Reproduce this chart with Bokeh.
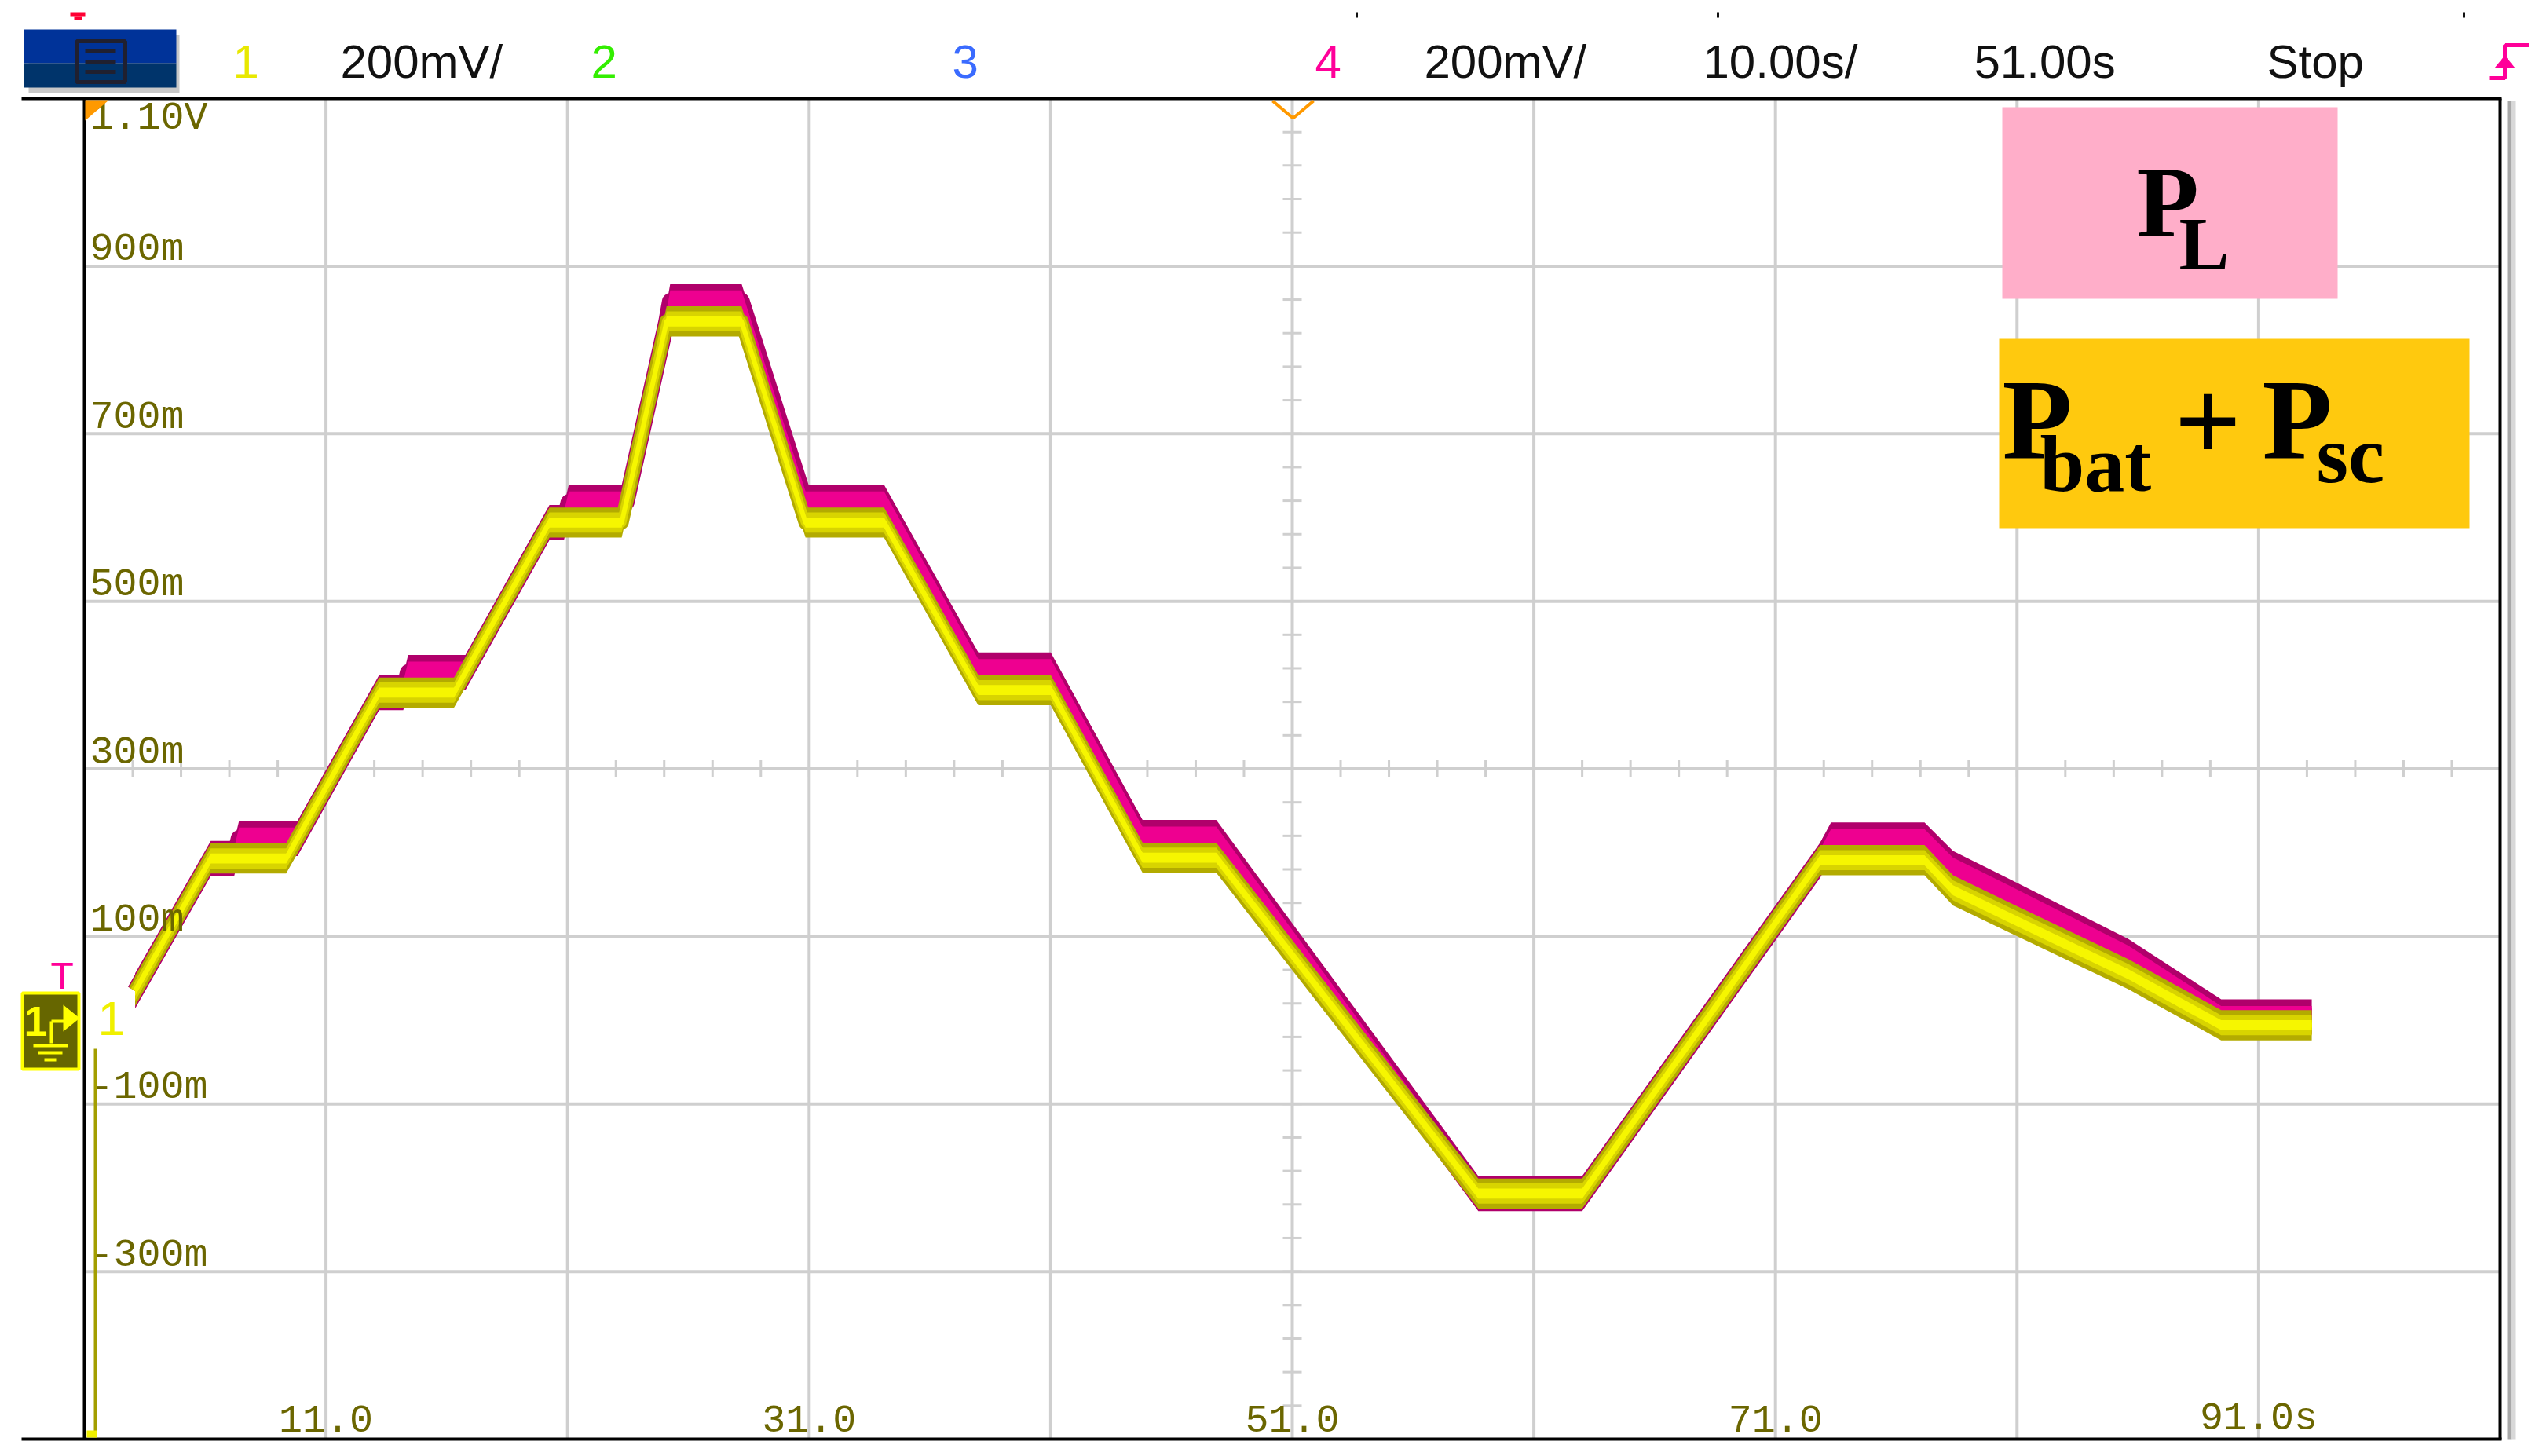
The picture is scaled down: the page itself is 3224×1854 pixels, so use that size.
import numpy as np
from bokeh.plotting import figure
from bokeh.models import Range1d
from bokeh.core.properties import value
from bokeh.embed import file_html
from bokeh.resources import INLINE

# ---------------- values read from the scope capture ----------------
# channel 1 (yellow): P_bat + P_sc  (time in s, level in V)
time_bat_sc_s = [3.1, 6.23, 9.35, 13.2, 16.3, 20.25, 23.24, 25.1, 28.2, 30.85, 34.1,
                 38.0, 41.0, 44.8, 47.85, 58.7, 63.0, 72.85, 77.17, 78.35, 80.65, 85.6, 89.45, 93.2]
p_bat_sc_v = [0.035, 0.193, 0.193, 0.391, 0.391, 0.594, 0.594, 0.834, 0.834, 0.594, 0.594,
              0.394, 0.394, 0.194, 0.194, -0.207, -0.207, 0.191, 0.191, 0.155, 0.123, 0.055,
              -0.006, -0.006]
# channel 4 (magenta): P_L
time_load_s = [3.1, 6.23, 7.2, 7.4, 9.35, 9.82, 13.2, 14.2, 14.4, 16.3, 16.77, 20.25, 20.85,
               21.05, 23.24, 23.43, 25.1, 25.25, 28.2, 30.85, 34.1, 38.0, 41.0, 44.8, 47.85,
               58.7, 63.0, 72.85, 73.3, 77.17, 78.35, 80.65, 85.6, 89.45, 93.2]
p_load_v = [0.035, 0.193, 0.193, 0.217, 0.217, 0.217, 0.391, 0.391, 0.415, 0.415, 0.415, 0.594,
            0.594, 0.618, 0.618, 0.618, 0.834, 0.858, 0.858, 0.618, 0.618, 0.418, 0.418, 0.218,
            0.218, -0.207, -0.207, 0.191, 0.215, 0.215, 0.181, 0.148, 0.076, 0.004, 0.004]

x_grid_s = [11, 21, 31, 41, 51, 61, 71, 81, 91]
y_grid_v = [0.9, 0.7, 0.5, 0.3, 0.1, -0.1, -0.3]
x_label_pos = [11, 31, 51, 71, 91]
x_labels = ["11.0", "31.0", "51.0", "71.0", "91.0s"]
y_label_pos = [0.9, 0.7, 0.5, 0.3, 0.1]
y_labels = ["900m", "700m", "500m", "300m", "100m"]
y_neg_pos = [-0.1, -0.3]
y_neg_labels = ["-100m", "-300m"]
top_label = "1.10V"
status_texts = ["1", "200mV/", "2", "3", "4", "200mV/", "10.00s/", "51.00s", "Stop"]
status_colors = ["#e8e800", "#111111", "#33ee00", "#3a6bff", "#ff0099",
                 "#111111", "#111111", "#111111", "#111111"]

# ---------------- layout (page pixels) ----------------
W, H = 3220, 1850
L, R, T, B = 107, 3183, 125, 1832
T0, T1 = 1.0, 101.0
V_BOT, V_TOP = -0.5, 1.1
sx = (R - L) / (T1 - T0)
sy = (B - T) / (V_TOP - V_BOT)


def tx(px):
    return T0 + (px - L) / sx


def vy(py):
    return V_TOP - (py - T) / sy


status_x_px = [296, 433, 752, 1212, 1674, 1813, 2168, 2513, 2886]

p = figure(width=W, height=H, x_range=Range1d(tx(0), tx(W)),
           y_range=Range1d(vy(H), vy(0)), x_axis_type=None, y_axis_type=None,
           toolbar_location=None, output_backend="svg", min_border=0, title=None)
p.outline_line_color = None
p.background_fill_color = "white"
p.border_fill_color = "white"

GRID = "#cfcfcf"
OLIVE = "#6b6600"

# grid
n = len(x_grid_s)
p.segment(x0=x_grid_s, y0=[V_BOT] * n, x1=x_grid_s, y1=[V_TOP] * n,
          line_color=GRID, line_width=4)
m = len(y_grid_v)
p.segment(x0=[T0] * m, y0=y_grid_v, x1=[T1] * m, y1=y_grid_v,
          line_color=GRID, line_width=4)

# minor ticks on the centre lines
center_t, center_v = 51.0, 0.3
mv = np.arange(V_BOT + 0.04, V_TOP - 0.001, 0.04)
p.segment(x0=center_t - 12 / sx, x1=center_t + 12 / sx, y0=mv, y1=mv,
          line_color=GRID, line_width=3)
mt = np.arange(T0 + 2, T1 - 0.001, 2.0)
p.segment(x0=mt, x1=mt, y0=center_v - 11 / sy, y1=center_v + 11 / sy,
          line_color=GRID, line_width=3)

# traces: vertical-thickness bands plus a line, like the scope's persistence display
tl = np.array(time_load_s)
yl = np.array(p_load_v)
tb = np.array(time_bat_sc_s)
yb = np.array(p_bat_sc_v)
p.varea(x=tl, y1=yl - 0.021, y2=yl + 0.021, fill_color="#b0006b")
p.line(x=tl, y=yl, line_color="#b0006b", line_width=21, line_join="round")
p.varea(x=tl, y1=yl - 0.013, y2=yl + 0.013, fill_color="#ee0090")
p.varea(x=tb, y1=yb - 0.018, y2=yb + 0.018, fill_color="#b3ab00")
p.line(x=tb, y=yb, line_color="#b3ab00", line_width=18, line_join="round")
p.varea(x=tb, y1=yb - 0.012, y2=yb + 0.012, fill_color="#d8d400")
p.line(x=tb, y=yb, line_color="#d8d400", line_width=12, line_join="round")
p.varea(x=tb, y1=yb - 0.006, y2=yb + 0.006, fill_color="#f6f600")
p.line(x=tb, y=yb, line_color="#f6f600", line_width=6, line_join="round")

# frame
p.segment(x0=[tx(27), tx(27)], x1=[tx(3185), tx(3185)], y0=[V_TOP, V_BOT], y1=[V_TOP, V_BOT],
          line_color="black", line_width=4)
p.segment(x0=[T0, T1], x1=[T0, T1], y0=[V_TOP, V_TOP], y1=[V_BOT, V_BOT],
          line_color="black", line_width=4)
# grey bar at the right
p.quad(left=tx(3192), right=tx(3197), top=vy(128), bottom=vy(1832), fill_color="#a8a8a8", line_color=None)
p.quad(left=tx(3197), right=tx(3202), top=vy(128), bottom=vy(1832), fill_color="#d8d8d8", line_color=None)

# olive axis labels (text_baseline middle: y is the visual centre of the label)
mono = value("Liberation Mono")
lab_dv = 21 / sy
p.text(x=[tx(114)] * len(y_labels), y=np.array(y_label_pos) + lab_dv, text=y_labels,
       text_font=mono, text_font_size=value("50px"), text_color=OLIVE,
       text_baseline="middle", text_align="left")
p.text(x=[tx(114)], y=[vy(150)], text=[top_label],
       text_font=mono, text_font_size=value("50px"), text_color=OLIVE,
       text_baseline="middle", text_align="left")
p.text(x=[tx(114)] * len(y_neg_labels), y=np.array(y_neg_pos) + lab_dv, text=y_neg_labels,
       text_font=mono, text_font_size=value("50px"), text_color=OLIVE,
       text_baseline="middle", text_align="left")
p.text(x=x_label_pos, y=[vy(1806)] * len(x_labels), text=x_labels,
       text_font=mono, text_font_size=value("50px"), text_color=OLIVE,
       text_baseline="middle", text_align="center")

# olive channel scale line and marker bits at left
p.segment(x0=[tx(121)], x1=[tx(121)], y0=[vy(1335)], y1=[vy(1830)], line_color="#a39e00", line_width=4)
p.quad(left=tx(110), right=tx(123), top=vy(1821), bottom=vy(1830), fill_color="#f0f000", line_color=None)

# ground marker box for channel 1
p.quad(left=tx(28), right=tx(100), top=vy(1264), bottom=vy(1361), fill_color="#666600",
       line_color="#ffff00", line_width=4)
p.text(x=[tx(30)], y=[vy(1300)], text=["1"], text_font=value("Liberation Sans"),
       text_font_size=value("54px"), text_color="#ffff00", text_font_style="bold",
       text_baseline="middle", text_align="left")
p.segment(x0=[tx(65), tx(65), tx(42), tx(48), tx(56)],
          x1=[tx(65), tx(82), tx(86), tx(79), tx(71)],
          y0=[vy(1300), vy(1300), vy(1331), vy(1340), vy(1349)],
          y1=[vy(1328), vy(1300), vy(1331), vy(1340), vy(1349)],
          line_color="#ffff00", line_width=4)
p.patch(x=[tx(80), tx(80), tx(101)], y=[vy(1279), vy(1313), vy(1296)], fill_color="#ffff00", line_color=None)
p.text(x=[tx(64)], y=[vy(1242)], text=["T"], text_font=value("Liberation Sans"),
       text_font_size=value("48px"), text_color="#ff0099", text_baseline="middle", text_align="left")
p.text(x=[tx(124)], y=[vy(1296)], text=["1"], text_font=value("Liberation Sans"),
       text_font_size=value("62px"), text_color="#f0f000", text_baseline="middle", text_align="left")

# trigger markers (orange)
p.patch(x=[tx(108), tx(138), tx(108)], y=[vy(127), vy(127), vy(153)], fill_color="#ff9900", line_color=None)
p.line(x=[tx(1620), tx(1646), tx(1672)], y=[vy(128), vy(150), vy(128)], line_color="#ff9900", line_width=4)

# ---------------- status bar ----------------
p.quad(left=tx(36), right=tx(228), top=vy(44), bottom=vy(118), fill_color="#c8c8c8", line_color=None)
p.quad(left=tx(30), right=tx(224), top=vy(37), bottom=vy(80), fill_color="#003399", line_color=None)
p.quad(left=tx(30), right=tx(224), top=vy(80), bottom=vy(111), fill_color="#00346b", line_color=None)
p.quad(left=tx(97), right=tx(159), top=vy(52), bottom=vy(104), fill_color=None,
       line_color="#202030", line_width=5)
p.segment(x0=[tx(108)] * 3, x1=[tx(147)] * 3, y0=[vy(65), vy(78), vy(91)], y1=[vy(65), vy(78), vy(91)],
          line_color="#202030", line_width=5)
p.quad(left=tx(89), right=tx(108), top=vy(15), bottom=vy(21), fill_color="#ff0033", line_color=None)
p.quad(left=tx(94), right=tx(104), top=vy(21), bottom=vy(25), fill_color="#ff0033", line_color=None)
p.segment(x0=[tx(1727), tx(2187), tx(3137)], x1=[tx(1727), tx(2187), tx(3137)],
          y0=[vy(15)] * 3, y1=[vy(22)] * 3, line_color="#111111", line_width=3)

p.text(x=[tx(v) for v in status_x_px], y=[vy(78)] * len(status_texts), text=status_texts,
       text_color=status_colors, text_font=value("Liberation Sans"), text_font_size=value("60px"),
       text_baseline="middle", text_align="left")

# trigger edge icon (magenta)
p.line(x=[tx(3169), tx(3189), tx(3189), tx(3226)], y=[vy(99), vy(99), vy(57), vy(57)],
       line_color="#ff0099", line_width=5)
p.patch(x=[tx(3176), tx(3202), tx(3189)], y=[vy(86), vy(86), vy(70)], fill_color="#ff0099", line_color=None)

# ---------------- legend boxes ----------------
serif = value("Liberation Serif")
p.quad(left=tx(2549), right=tx(2976), top=vy(136), bottom=vy(380), fill_color="#FFAEC9", line_color=None)
p.quad(left=tx(2545), right=tx(3144), top=vy(431), bottom=vy(672), fill_color="#FFC90E", line_color=None)


def word(txt, xp, yp, size):
    p.text(x=[tx(xp)], y=[vy(yp)], text=[txt], text_font=serif, text_font_style="bold",
           text_font_size=value(size), text_color="black", text_baseline="middle",
           text_align="left")


word("P", 2720, 256, "130px")
word("L", 2774, 310, "96px")
word("P", 2549, 534, "146px")
word("bat", 2597, 590, "102px")
word("+", 2768, 537, "150px")
word("P", 2880, 534, "146px")
word("sc", 2949, 578, "104px")

open("out.html", "w").write(file_html(p, INLINE))
